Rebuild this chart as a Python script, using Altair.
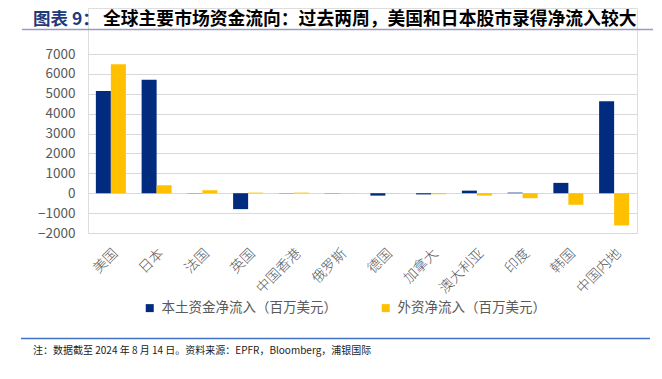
import altair as alt
import pandas as pd

categories = ["美国", "日本", "法国", "英国", "中国香港", "俄罗斯", "德国",
              "加拿大", "澳大利亚", "印度", "韩国", "中国内地"]
domestic = [5140, 5710, 10, -800, -10, -10, -120, -60, 130, 30, 520, 4620]
foreign = [6480, 400, 150, 30, 30, 10, 10, -50, -120, -250, -580, -1620]
series_names = ["本土资金净流入（百万美元）", "外资净流入（百万美元）"]
series_colors = ["#002B7F", "#FFC000"]
y_ticks = [-2000, -1000, 0, 1000, 2000, 3000, 4000, 5000, 6000, 7000]

title_prefix = "图表 9："
title_main = "全球主要市场资金流向：过去两周，美国和日本股市录得净流入较大"
footnote = "注：数据截至 2024 年 8 月 14 日。资料来源：EPFR，Bloomberg，浦银国际"

rows = []
for c, d, f in zip(categories, domestic, foreign):
    rows.append({"cat": c, "series": series_names[0], "value": d})
    rows.append({"cat": c, "series": series_names[1], "value": f})
df = pd.DataFrame(rows)

FONT = "Noto Sans CJK SC"
W, H = 549, 225

bars = alt.Chart(df).mark_bar().encode(
    x=alt.X("cat:N", sort=categories,
            scale=alt.Scale(paddingInner=0.344, paddingOuter=0.172),
            axis=alt.Axis(title=None, labelAngle=-45, labelFontSize=14,
                          labelColor="#595959", labelPadding=13,
                          domain=False, ticks=False, labelFont=FONT,
                          labelFontWeight=300)),
    xOffset=alt.XOffset("series:N", sort=series_names,
                        scale=alt.Scale(paddingInner=0, domain=series_names)),
    y=alt.Y("value:Q",
            scale=alt.Scale(domain=[-2000, 7000], nice=False, range=[225, 46]),
            axis=alt.Axis(title=None, values=y_ticks, format="d",
                          labelFontSize=13.5,
                          labelColor="#595959", labelPadding=13,
                          domain=False, ticks=False, gridColor="#D9D9D9",
                          gridWidth=1, labelFont=FONT)),
    color=alt.Color("series:N",
                    scale=alt.Scale(domain=series_names, range=series_colors),
                    legend=alt.Legend(title=None, orient="none",
                                      direction="horizontal",
                                      legendX=55, legendY=293,
                                      symbolType="square", symbolSize=64,
                                      symbolStrokeWidth=0, labelLimit=0,
                                      labelFontSize=13.5, labelColor="#595959",
                                      labelFont=FONT, columnPadding=42,
                                      labelOffset=5, padding=0)),
)

one = alt.Data(values=[{"k": 1}])

title1 = alt.Chart(one).mark_text(
    align="left", baseline="middle", fontSize=17.5, fontWeight="bold",
    font=FONT, color="#1F3A7A"
).encode(x=alt.value(-55), y=alt.value(12), text=alt.value(title_prefix))

title2 = alt.Chart(one).mark_text(
    align="left", baseline="middle", fontSize=17.8, fontWeight="bold",
    font=FONT, color="#000000"
).encode(x=alt.value(15), y=alt.value(12), text=alt.value(title_main))

title_line = alt.Chart(one).mark_rule(color="#9A9AC4", strokeWidth=1.5).encode(
    x=alt.value(-66), x2=alt.value(565), y=alt.value(21.5))

foot_line = alt.Chart(one).mark_rule(color="#4472C4", strokeWidth=1.5).encode(
    x=alt.value(-67), x2=alt.value(562), y=alt.value(330.5))

foot_text = alt.Chart(one).mark_text(
    align="left", baseline="middle", fontSize=10, font=FONT, color="#222222"
).encode(x=alt.value(-55), y=alt.value(343), text=alt.value(footnote))

chart = alt.layer(bars, title1, title2, title_line, foot_line, foot_text).properties(
    width=W, height=H,
    autosize=alt.AutoSizeParams(type="none"),
    padding={"left": 80, "top": 0, "right": 17, "bottom": 138},
).configure_view(stroke=None).configure(font=FONT)

chart.save("out.html", embed_options={"renderer": "svg", "actions": False})
